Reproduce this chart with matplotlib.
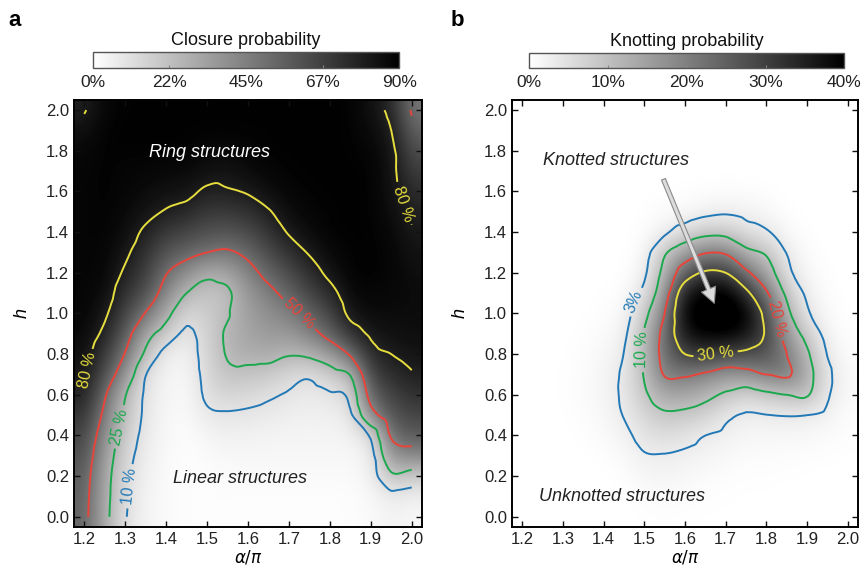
import numpy as np
import matplotlib
matplotlib.use("Agg")
import matplotlib.pyplot as plt
import matplotlib.tri as mtri

plt.rcParams['font.family'] = ['Liberation Sans', 'DejaVu Sans']

# grid: alpha/pi (columns) and h (rows)
alpha = [1.20, 1.25, 1.30, 1.35, 1.40, 1.45, 1.50, 1.55, 1.60,
         1.65, 1.70, 1.75, 1.80, 1.85, 1.90, 1.95, 2.00]
h = [0.0, 0.1, 0.2, 0.3, 0.4, 0.5, 0.6, 0.7, 0.8, 0.9, 1.0,
     1.1, 1.2, 1.3, 1.4, 1.5, 1.6, 1.7, 1.8, 1.9, 2.0]

# closure probability (%), one list per alpha column, h = 0.0 ... 2.0
closure_cols = [
    [55, 56, 58, 62, 66, 72, 78, 82, 85, 87, 88, 88, 88, 88, 88, 88, 88, 88, 87, 84, 79],
    [30, 31, 32, 35, 40, 46, 52, 62, 70, 77, 82, 86, 88, 88, 89, 89, 89, 89, 89, 89, 88],
    [11, 12, 13, 15, 18, 22, 26, 38, 49, 58, 66, 72, 78, 82, 85, 87, 88, 88, 89, 89, 89],
    [4, 4, 5, 6, 7, 8, 8.5, 10.5, 22, 32, 49, 62, 68, 73, 78, 83, 86, 88, 89, 89, 89],
    [2, 2, 2, 2, 3, 3, 4, 4.5, 6, 18, 30, 42, 51, 60, 70, 79, 84, 87, 89, 89, 89],
    [1, 1, 1, 1, 1, 2, 2, 3, 5, 8, 14, 25, 40, 55, 66, 76, 83, 87, 89, 89, 89],
    [1, 1, 1, 2, 4, 8, 12, 14, 15, 16, 18, 21, 29, 50, 62, 70, 78, 84, 87, 89, 89],
    [1, 1, 2, 3, 5.5, 9, 15, 22, 26, 27, 24, 23, 32, 48, 60, 70, 79, 83, 87, 89, 89],
    [1, 1, 2, 3, 5, 8.5, 13.5, 21, 29, 32, 34, 37, 44, 54, 64, 73, 81, 86, 88, 89, 89],
    [1, 1, 2, 3, 4.5, 7.5, 11.5, 19, 30, 36, 40, 46, 55, 64, 72, 79, 85, 88, 89, 89, 89],
    [1, 1, 2, 3, 4, 6, 9, 14.5, 26, 36, 45, 55, 64, 73, 81, 86, 88, 89, 89, 89, 89],
    [1, 1, 2, 3, 4, 5.5, 7.5, 12, 28, 44, 56, 66, 74, 81, 86, 88, 89, 89, 89, 89, 89],
    [1, 1, 2, 3, 4, 6, 9, 18, 36, 56, 66, 75, 83, 87, 89, 89, 89, 89, 89, 89, 89],
    [1, 1, 2, 3, 5, 8, 14, 26, 52, 72, 83, 87, 89, 89, 89, 89, 89, 89, 89, 89, 89],
    [2, 3, 5, 6, 12, 42, 56, 66, 75, 82, 86, 88, 89, 89, 89, 89, 89, 89, 88, 86, 84],
    [5, 7, 22, 38, 52, 60, 67, 74, 80, 84, 86, 87, 88, 88, 87, 85, 84, 83, 83, 80, 76],
    [3, 6, 18, 42, 58, 66, 73, 79, 83, 85, 86, 86, 85, 83, 81, 78, 74, 68, 62, 55, 48],
]

# knotting probability (%), one list per alpha column, h = 0.0 ... 2.0
knot_cols = [
    [0] * 21,
    [0] * 21,
    [0, 0, 0, 0, 0, 0.1, 0.2, 0.2, 0.1, 0, 0, 0, 0, 0, 0, 0, 0, 0, 0, 0, 0],
    [0, 0, 0, 0.1, 0.3, 0.5, 0.7, 0.7, 0.5, 0.3, 0.1, 0, 0, 0, 0, 0, 0, 0, 0, 0, 0],
    [0, 0, 0, 0.3, 0.8, 1.3, 1.6, 1.6, 1.3, 0.8, 0.4, 0.2, 0, 0, 0, 0, 0, 0, 0, 0, 0],
    [0, 0, 0.5, 1, 2, 3.2, 3.8, 3.8, 3.1, 2.2, 1.2, 0.5, 0.2, 0, 0, 0, 0, 0, 0, 0, 0],
    [0.2, 0.5, 1.5, 2.7, 4.5, 6.5, 8.8, 10.5, 11, 10.5, 8, 4.5, 2.2, 1.2, 0.5, 0.2, 0, 0, 0, 0, 0],
    [0.3, 0.8, 1.8, 2.8, 5.5, 9, 14, 20.5, 23, 23, 20, 16, 12.5, 9, 2.2, 0.8, 0.2, 0, 0, 0, 0],
    [0.2, 0.6, 1.3, 2.4, 4.5, 8.5, 14, 21, 30, 37, 40, 36, 25, 15, 5.5, 1.0, 0.2, 0, 0, 0, 0],
    [0.1, 0.3, 0.8, 1.8, 3, 7, 12, 19, 31, 40, 43, 40, 31, 19.5, 8, 2, 0.5, 0, 0, 0, 0],
    [0.1, 0.2, 0.5, 1.2, 2.2, 4, 9, 16, 29, 40, 44, 41, 30, 19, 8, 2.5, 0.6, 0, 0, 0, 0],
    [0, 0.1, 0.3, 0.7, 1.5, 2.6, 6.5, 17, 28, 37, 40, 32, 21.5, 12, 5, 2, 0.5, 0, 0, 0, 0],
    [0, 0.1, 0.3, 0.7, 1.4, 2.9, 8.5, 20, 27, 29, 27, 21, 14, 9, 3.5, 1.2, 0.3, 0, 0, 0, 0],
    [0, 0, 0.2, 0.5, 1.5, 3.2, 10, 21, 20, 16, 12, 8.5, 4.5, 2.8, 1, 0.3, 0, 0, 0, 0, 0],
    [0, 0, 0.1, 0.4, 1.2, 3, 10.5, 13, 11, 7.5, 3.8, 2.2, 1.2, 0.6, 0.2, 0, 0, 0, 0, 0, 0],
    [0, 0, 0, 0.3, 0.8, 2, 3.5, 4, 2.8, 1.5, 0.8, 0.4, 0.2, 0, 0, 0, 0, 0, 0, 0, 0],
    [0, 0, 0, 0.1, 0.3, 0.5, 1, 1, 0.6, 0.3, 0.1, 0, 0, 0, 0, 0, 0, 0, 0, 0, 0],
]

closure_levels = [10, 25, 50, 80]
closure_fmt = {10: '10 %', 25: '25 %', 50: '50 %', 80: '80 %'}
closure_ticks = [0, 22.5, 45, 67.5, 90]
closure_ticklabels = ['0%', '22%', '45%', '67%', '90%']

knot_levels = [3, 10, 20, 30]
knot_fmt = {3: '3%', 10: '10 %', 20: '20 %', 30: '30 %'}
knot_ticks = [0, 10, 20, 30, 40]
knot_ticklabels = ['0%', '10%', '20%', '30%', '40%']

line_colors = ['#2379b6', '#1ba84e', '#e8443a', '#e6dd3e']

fig = plt.figure(figsize=(8.64, 5.68), dpi=100)
ax_a = fig.add_axes([0.0856, 0.0722, 0.4028, 0.7518])
ax_b = fig.add_axes([0.5926, 0.0722, 0.4005, 0.7518])
cax_a = fig.add_axes([0.1073, 0.8798, 0.3549, 0.0292])
cax_b = fig.add_axes([0.6126, 0.8798, 0.3646, 0.0264])

dx = (alpha[1] - alpha[0]) / 2
dy = (h[1] - h[0]) / 2
extent = [alpha[0] - dx, alpha[-1] + dx, h[0] - dy, h[-1] + dy]

# scale h so the triangulation cells are close to square for smoother refinement
h_scale = 0.5
X, Y = np.meshgrid(alpha, np.array(h) * h_scale)
triang = mtri.Triangulation(X.ravel(), Y.ravel())
refiner = mtri.UniformTriRefiner(triang)


def draw_panel(ax, cax, cols, vmax, levels, fmt, manual, ticks, ticklabels, title):
    z = np.array(cols, dtype=float).T
    im = ax.imshow(z, origin='lower', extent=extent, aspect='auto',
                   cmap='gray_r', vmin=0, vmax=vmax, interpolation='bicubic')

    interp = mtri.CubicTriInterpolator(triang, z.ravel(), kind='geom')
    tri_fine, z_fine = refiner.refine_field(z.ravel(), triinterpolator=interp, subdiv=3)
    tri_plot = mtri.Triangulation(tri_fine.x, tri_fine.y / h_scale, tri_fine.triangles)
    cs = ax.tricontour(tri_plot, z_fine, levels=levels, colors=line_colors, linewidths=1.4)
    ax.clabel(cs, fmt=fmt, manual=manual, inline=True, fontsize=11.5, inline_spacing=4)

    ax.set_xlim(extent[0], extent[1])
    ax.set_ylim(extent[2], extent[3])
    ax.set_xticks(np.arange(1.2, 2.01, 0.1))
    ax.set_xticklabels([f'{v:.1f}' for v in np.arange(1.2, 2.01, 0.1)])
    ax.set_yticks(np.arange(0.0, 2.01, 0.2))
    ax.set_yticklabels([f'{v:.1f}' for v in np.arange(0.0, 2.01, 0.2)])
    ax.tick_params(direction='in', length=4, width=1, labelsize=12,
                   top=True, right=True, colors='#111111', labelcolor='#222222')
    for sp in ax.spines.values():
        sp.set_linewidth(1.4)
    ax.set_xlabel(r'$\alpha/\pi$', fontsize=12, labelpad=1)
    ax.set_ylabel('h', fontsize=13, style='italic', labelpad=11)

    cb = fig.colorbar(im, cax=cax, orientation='horizontal')
    cb.set_ticks(ticks)
    cb.set_ticklabels(ticklabels)
    cb.ax.tick_params(direction='in', length=2, labelsize=12.5, pad=5,
                      labelcolor='#222222', color='#888888')
    cb.outline.set_edgecolor('#555555')
    cb.outline.set_linewidth(1.0)
    cax.set_title(title, fontsize=13, pad=5, color='#111111')


draw_panel(ax_a, cax_a, closure_cols, 90, closure_levels, closure_fmt,
           [(1.205, 0.72), (1.27, 0.45), (1.315, 0.15), (1.72, 0.99), (1.99, 1.55)],
           closure_ticks, closure_ticklabels, 'Closure probability')
draw_panel(ax_b, cax_b, knot_cols, 40, knot_levels, knot_fmt,
           [(1.475, 1.06), (1.50, 0.82), (1.82, 0.97), (1.675, 0.80)],
           knot_ticks, knot_ticklabels, 'Knotting probability')

ax_a.text(1.505, 1.79, 'Ring structures', color='white', style='italic',
          fontsize=13, ha='center', va='center')
ax_a.text(1.58, 0.19, 'Linear structures', color='#222222', style='italic',
          fontsize=13, ha='center', va='center')
ax_b.text(1.43, 1.75, 'Knotted structures', color='#222222', style='italic',
          fontsize=13, ha='center', va='center')
ax_b.text(1.446, 0.10, 'Unknotted structures', color='#222222', style='italic',
          fontsize=13, ha='center', va='center')
ax_b.annotate('', xy=(1.672, 1.05), xytext=(1.547, 1.66),
              arrowprops=dict(facecolor='#dcdcdc', edgecolor='#8a8a8a', lw=0.8,
                              width=3, headwidth=11, headlength=11))

fig.text(0.010, 0.955, 'a', fontsize=16, fontweight='bold')
fig.text(0.521, 0.955, 'b', fontsize=16, fontweight='bold')

fig.savefig('out.png', dpi=100)
